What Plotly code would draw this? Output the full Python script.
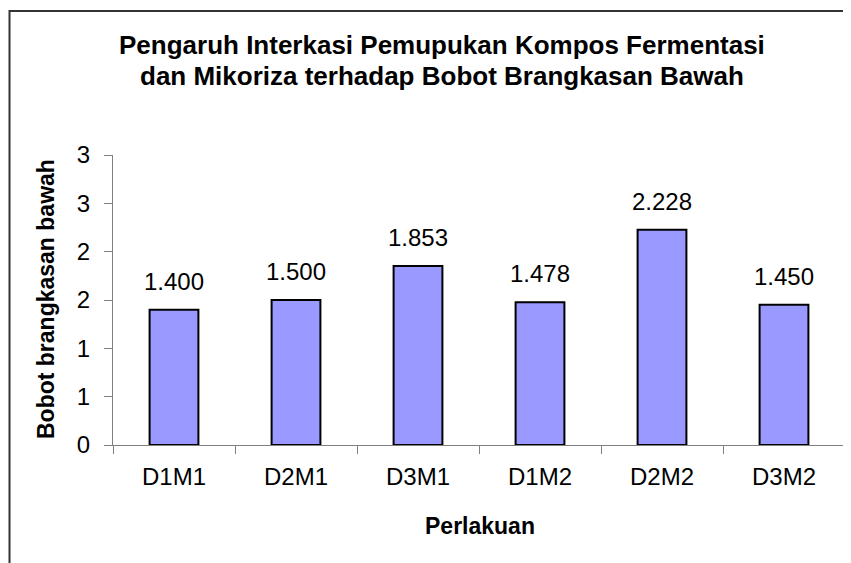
import plotly.graph_objects as go

categories = ["D1M1", "D2M1", "D3M1", "D1M2", "D2M2", "D3M2"]
values = [1.400, 1.500, 1.853, 1.478, 2.228, 1.450]
ytick_vals = [0, 0.5, 1, 1.5, 2, 2.5, 3]
ytick_text = ["0", "1", "1", "2", "2", "3", "3"]
title_lines = ["Pengaruh Interkasi Pemupukan Kompos Fermentasi",
               "dan Mikoriza terhadap Bobot Brangkasan Bawah"]

OFF = 8  # page body margin
W, H = 851 - OFF, 563 - OFF
L, T = 113 - OFF, 155 - OFF
R = W - (845 - OFF)
B = H - (445 - OFF)
pw, ph = W - L - R, H - T - B

def px_x(p):  # page pixel -> paper
    return (p - OFF - L) / pw

def px_y(p):
    return (H - B - (p - OFF)) / ph

font = "Liberation Sans"

fig = go.Figure(go.Bar(
    x=categories, y=values, width=0.4,
    marker=dict(color="#9999FF", line=dict(color="black", width=2)),
    hoverinfo="x+y",
))

for c, v in zip(categories, values):
    fig.add_annotation(
        x=c, y=v, text=f"{v:.3f}", showarrow=False,
        xanchor="center", yanchor="bottom", yshift=13,
        font=dict(size=24, family=font, color="black"),
    )

fig.update_layout(
    width=W, height=H,
    margin=dict(l=L, r=R, t=T, b=B),
    paper_bgcolor="white", plot_bgcolor="white",
    showlegend=False,
    font=dict(family=font, color="black"),
)
fig.update_xaxes(
    showline=True, linecolor="#808080", linewidth=1,
    ticks="outside", ticklen=8, tickcolor="#808080", tickson="boundaries",
    tickfont=dict(size=24, family=font), showgrid=False,
    ticklabelstandoff=10,
)
fig.update_yaxes(
    range=[0, 3], tickvals=ytick_vals, ticktext=ytick_text,
    showline=True, linecolor="#808080", linewidth=1,
    ticks="outside", ticklen=8, tickcolor="#808080",
    tickfont=dict(size=24, family=font), showgrid=False, zeroline=False,
    ticklabelstandoff=9,
)

for line, yc in zip(title_lines, [45, 76]):
    fig.add_annotation(
        text=f"<b>{line}</b>",
        xref="paper", yref="paper", x=px_x(442), y=px_y(yc),
        xanchor="center", yanchor="middle", showarrow=False,
        font=dict(size=26, family=font, color="black"),
    )
fig.add_annotation(
    text="<b>Bobot brangkasan bawah</b>",
    xref="paper", yref="paper", x=px_x(46), y=px_y(299),
    xanchor="center", yanchor="middle", showarrow=False, textangle=-90,
    font=dict(size=23, family=font, color="black"),
)
fig.add_annotation(
    text="<b>Perlakuan</b>",
    xref="paper", yref="paper", x=px_x(480), y=px_y(526),
    xanchor="center", yanchor="middle", showarrow=False,
    font=dict(size=23, family=font, color="black"),
)
fig.add_shape(
    type="rect", xref="paper", yref="paper",
    x0=px_x(9.5), y0=px_y(620), x1=px_x(900), y1=px_y(11),
    line=dict(color="#333333", width=2), layer="below",
)

fig.write_html("out.html")
